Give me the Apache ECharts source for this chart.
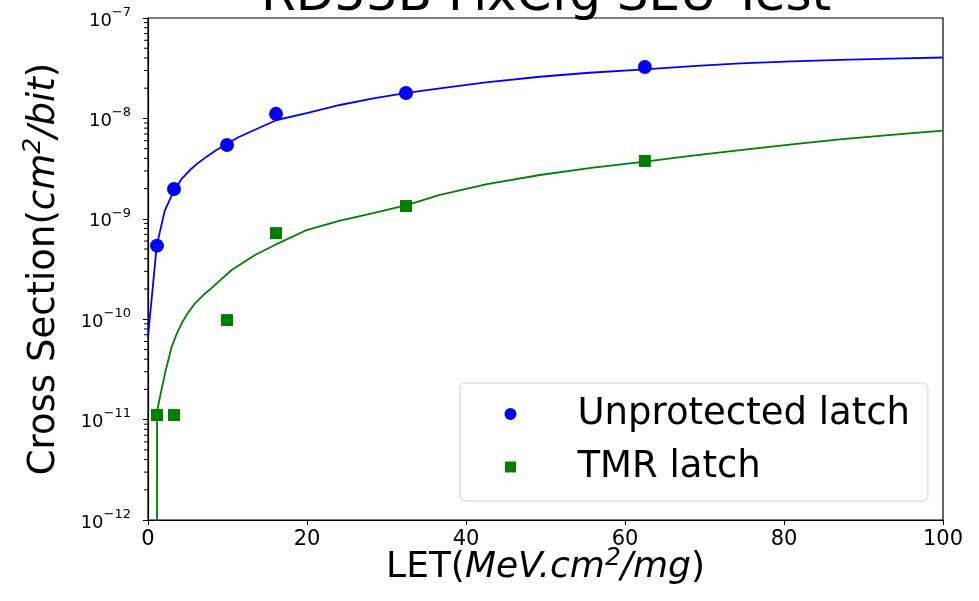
<!DOCTYPE html>
<html>
<head>
<meta charset="utf-8">
<script src="https://cdn.jsdelivr.net/npm/echarts@6/dist/echarts.min.js"></script>
<style>html,body{margin:0;padding:0;background:#fff;}#chart{width:979px;height:601px;}</style>
</head>
<body>
<div id="chart"></div>
<script>
// ---- data ----
const titleText = 'RD53B FixCfg SEU Test';
const seriesNames = ['Unprotected latch', 'TMR latch'];
const letUnprot = [1.13, 3.27, 9.94, 16.1, 32.45, 62.5];
const xsUnprot = [5.4e-10, 1.98e-9, 5.43e-9, 1.11e-8, 1.79e-8, 3.25e-8];
const letTMR = [1.13, 3.27, 9.94, 16.1, 32.45, 62.5];
const xsTMR = [1.11e-11, 1.11e-11, 9.8e-11, 7.2e-10, 1.34e-9, 3.77e-9];
const fitUnprotLET = [0, 1.1, 2.1, 3.18, 4.2, 5.28, 6.3, 7.38, 8.6, 9.9, 11.3, 12.83, 14.5, 16.19, 19.96, 24.15, 28.34, 32.54, 36.73, 42.5, 49.3, 55.5, 62.5, 68.5, 74.5, 81, 87, 93.5, 100];
const fitUnprotXS = [6.65e-11, 5.4e-10, 1.2e-9, 1.85e-9, 2.48e-9, 3.06e-9, 3.6e-9, 4.16e-9, 4.85e-9, 5.56e-9, 6.45e-9, 7.32e-9, 8.4e-9, 9.64e-9, 1.13e-8, 1.36e-8, 1.58e-8, 1.80e-8, 1.99e-8, 2.28e-8, 2.60e-8, 2.85e-8, 3.08e-8, 3.32e-8, 3.54e-8, 3.69e-8, 3.82e-8, 3.94e-8, 4.04e-8];
const fitTMRLET = [1.12, 1.14, 1.51, 2.14, 2.98, 3.6, 4.24, 5.0, 5.91, 6.9, 8.01, 10.53, 13.46, 16.39, 19.96, 24.15, 28.34, 32.54, 36.73, 42.5, 49.3, 55.5, 62.5, 68.5, 74.5, 81, 87, 93.5, 100];
const fitTMRXS = [1e-14, 1.2e-11, 1.69e-11, 2.89e-11, 5.32e-11, 7.1e-11, 9.1e-11, 1.15e-10, 1.44e-10, 1.72e-10, 2.05e-10, 3.09e-10, 4.36e-10, 5.70e-10, 7.73e-10, 9.6e-10, 1.14e-9, 1.37e-9, 1.73e-9, 2.2e-9, 2.73e-9, 3.2e-9, 3.71e-9, 4.25e-9, 4.84e-9, 5.5e-9, 6.19e-9, 6.85e-9, 7.54e-9];
const xTicks = [0, 20, 40, 60, 80, 100];
const yDecades = [-12, -11, -10, -9, -8, -7];
const minorMult = [2, 3, 4, 5, 6, 7, 8, 9];

const FONT = 'DejaVu Sans';
const zip = (a, b) => a.map((v, i) => [v, b[i]]);
const minorVals = [];
for (let d = 0; d < yDecades.length - 1; d++) {
  for (const m of minorMult) minorVals.push([0, m * Math.pow(10, yDecades[d])]);
}

const chart = echarts.init(document.getElementById('chart'), null, {renderer: 'canvas'});
chart.setOption({
  backgroundColor: '#ffffff',
  animation: false,
  graphic: [{
    type: 'text', x: 546, y: -3, z: 10,
    style: {text: titleText, font: '50px "DejaVu Sans"', fill: '#000', align: 'center', verticalAlign: 'middle'}
  }],
  grid: {left: 148, right: 36, top: 18, bottom: 81, show: true, borderColor: '#000', borderWidth: 1.2, backgroundColor: 'transparent'},
  legend: {
    orient: 'vertical', left: 460, top: 383,
    padding: [11, 18, 14, 44], itemGap: 13, itemWidth: 12, itemHeight: 12,
    borderColor: '#d0d0d0', borderWidth: 1, borderRadius: 5, backgroundColor: '#fff',
    textStyle: {fontFamily: FONT, fontSize: 37, color: '#000', lineHeight: 40, padding: [0, 0, 0, 56]},
    data: [{name: seriesNames[0], icon: 'circle'}, {name: seriesNames[1], icon: 'rect', itemStyle: {borderColor: '#fff', borderWidth: 1}}]
  },
  xAxis: {
    type: 'value', min: xTicks[0], max: xTicks[xTicks.length - 1], interval: 20,
    splitLine: {show: false},
    axisLine: {show: true, onZero: false, lineStyle: {color: '#000', width: 1.2}},
    axisTick: {show: true, length: 5, lineStyle: {color: '#000'}},
    axisLabel: {fontFamily: FONT, fontSize: 21, color: '#000', margin: 9},
    name: '{n|LET(}{i|MeV.cm}{s|2}{i|/mg}{n|)}',
    nameLocation: 'middle', nameGap: 26, nameMoveOverlap: false,
    nameTextStyle: {
      rich: {
        n: {fontFamily: FONT, fontSize: 36, color: '#000', lineHeight: 40, verticalAlign: 'bottom'},
        i: {fontFamily: FONT, fontSize: 36, fontStyle: 'italic', color: '#000', lineHeight: 40, verticalAlign: 'bottom'},
        s: {fontFamily: FONT, fontSize: 25, fontStyle: 'italic', color: '#000', lineHeight: 40, verticalAlign: 'top'}
      }
    }
  },
  yAxis: {
    type: 'log', logBase: 10, min: 1e-12, max: 1e-7,
    splitLine: {show: false},
    axisLine: {show: true, lineStyle: {color: '#000', width: 1.2}},
    axisTick: {show: true, length: 5, lineStyle: {color: '#000'}},
    axisLabel: {
      margin: 17, color: '#000',
      formatter: v => '{b|10}{s|\u2212' + Math.abs(Math.round(Math.log10(v))) + '}',
      rich: {
        b: {fontFamily: FONT, fontSize: 18, color: '#000', lineHeight: 24, verticalAlign: 'bottom'},
        s: {fontFamily: FONT, fontSize: 13, color: '#000', lineHeight: 24, verticalAlign: 'top'}
      }
    },
    name: '{n|Cross Section(}{i|cm}{s|2}{i|/bit}{n|)}',
    nameLocation: 'middle', nameGap: 85, nameRotate: 90,
    nameTextStyle: {
      rich: {
        n: {fontFamily: FONT, fontSize: 37, color: '#000', lineHeight: 42, verticalAlign: 'bottom'},
        i: {fontFamily: FONT, fontSize: 37, fontStyle: 'italic', color: '#000', lineHeight: 42, verticalAlign: 'bottom'},
        s: {fontFamily: FONT, fontSize: 25, fontStyle: 'italic', color: '#000', lineHeight: 42, verticalAlign: 'top'}
      }
    }
  },
  series: [
    {name: 'Unprotected fit', type: 'line', data: zip(fitUnprotLET, fitUnprotXS), showSymbol: false,
     lineStyle: {color: '#0000ff', width: 1.8}, itemStyle: {color: '#0000ff'}, clip: true, z: 2, silent: true},
    {name: 'TMR fit', type: 'line', data: zip(fitTMRLET, fitTMRXS), showSymbol: false,
     lineStyle: {color: '#008000', width: 1.8}, itemStyle: {color: '#008000'}, clip: true, z: 2, silent: true},
    {name: seriesNames[0], type: 'scatter', data: zip(letUnprot, xsUnprot), symbol: 'circle', symbolSize: 14,
     itemStyle: {color: '#0000ff', opacity: 1}, z: 3},
    {name: seriesNames[1], type: 'scatter', data: zip(letTMR, xsTMR), symbol: 'rect', symbolSize: 12,
     itemStyle: {color: '#008000', opacity: 1}, z: 3},
    {name: 'minor ticks', type: 'scatter', data: minorVals, silent: true, clip: false, z: 10,
     symbol: 'rect', symbolSize: [4, 1], symbolOffset: [-2, 0],
     itemStyle: {color: '#000', opacity: 1}}
  ]
});
</script>
</body>
</html>
